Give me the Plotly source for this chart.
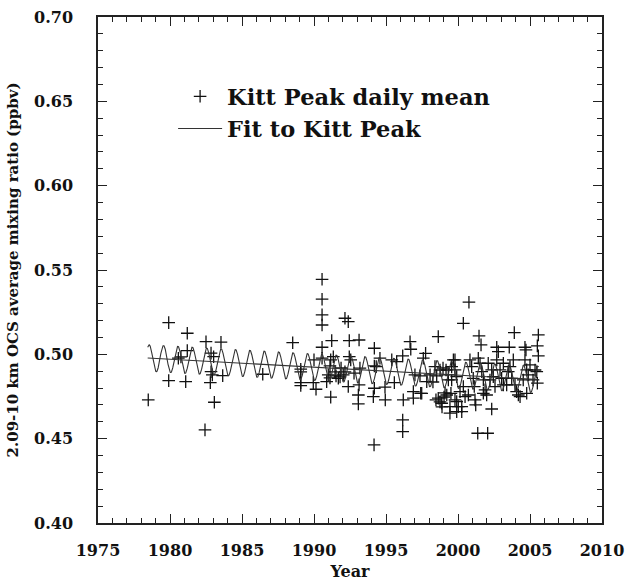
import numpy as np
import plotly.graph_objects as go

# ---- data ----
years = [
    1978.49, 1979.91, 1981.20, 1981.20, 1980.58, 1980.76, 1979.91, 1981.09, 1982.50, 1982.85,
    1983.03, 1983.54, 1982.85, 1982.94, 1982.80, 1983.66, 1983.08, 1982.43, 1986.44, 1988.52,
    1989.08, 1989.08, 1989.08, 1989.08, 1990.00, 1989.95, 1990.14, 1990.56, 1990.56, 1990.56,
    1990.56, 1990.56, 1990.56, 1991.23, 1991.16, 1991.11, 1991.34, 1990.99, 1990.88, 1991.11,
    1991.69, 1991.16, 1992.15, 1992.38, 1992.45, 1993.13, 1992.45, 1992.55, 1992.03, 1992.15,
    1991.81, 1991.53, 1992.38, 1993.13, 1993.08, 1993.08, 1993.19, 1992.78, 1991.46, 1991.88,
    1994.19, 1994.19, 1994.19, 1994.12, 1994.95, 1994.93, 1994.58, 1994.17, 1994.32, 1995.58,
    1995.40, 1995.74, 1996.16, 1996.16, 1996.20, 1996.16, 1996.67, 1996.72, 1996.90, 1996.90,
    1997.01, 1997.36, 1997.41, 1997.59, 1997.75, 1997.83, 1997.48, 1998.06, 1998.26, 1998.52,
    1998.63, 1998.75, 1998.40, 1998.47, 1998.75, 1998.89, 1999.03, 1999.10, 1998.96, 1999.17,
    1998.63, 1998.87, 1999.79, 1999.56, 1999.33, 1999.33, 1999.22, 1999.44, 1999.44, 1999.91,
    2000.02, 2000.26, 2000.14, 2000.37, 2000.49, 2000.72, 2000.83, 2000.95, 2001.06, 2001.13,
    2001.23, 2001.41, 2001.53, 2001.65, 2001.76, 2001.88, 2001.99, 2002.10, 2002.34, 2002.45,
    2002.57, 2002.69, 2002.92, 2003.03, 2003.15, 2003.15, 2000.76, 2000.37, 2001.46, 2001.60,
    2002.69, 2002.80, 2002.34, 2001.37, 2002.06, 1999.51, 1999.79, 1999.91, 2000.26, 2001.18,
    2001.76, 2002.22, 1999.68, 1999.79, 1999.56, 1999.91, 2003.56, 2003.91, 2004.65, 2004.72,
    2005.58, 2005.51, 2005.58, 2005.35, 2005.47, 2005.51, 2003.61, 2003.84, 2003.73, 2003.96,
    2004.07, 2004.19, 2004.31, 2004.53, 2004.65, 2004.77, 2004.88, 2004.77, 2003.49, 2003.38,
    2005.00, 2005.21,
]
ocs_ppbv = [
    0.4730, 0.5188, 0.5125, 0.5022, 0.4977, 0.4985, 0.4844, 0.4838, 0.5075, 0.5007,
    0.4986, 0.5072, 0.4897, 0.4878, 0.4832, 0.4874, 0.4716, 0.4552, 0.4882, 0.5069,
    0.4912, 0.4896, 0.4832, 0.4815, 0.4967, 0.4832, 0.4793, 0.5445, 0.5327, 0.5234,
    0.5174, 0.5042, 0.4977, 0.5081, 0.4967, 0.4931, 0.4986, 0.4878, 0.4838, 0.4860,
    0.4858, 0.4746, 0.5214, 0.5194, 0.5081, 0.5085, 0.4986, 0.4967, 0.4878, 0.4896,
    0.4866, 0.4872, 0.4809, 0.4819, 0.4759, 0.4706, 0.4918, 0.4888, 0.4896, 0.4919,
    0.5036, 0.4931, 0.4799, 0.4749, 0.4730, 0.4805, 0.4977, 0.4463, 0.4927, 0.4832,
    0.4967, 0.4957, 0.4611, 0.4542, 0.4730, 0.4991, 0.5075, 0.5030, 0.4779, 0.4740,
    0.4878, 0.4872, 0.4769, 0.4977, 0.5006, 0.4838, 0.4769, 0.4878, 0.4836, 0.4872,
    0.5105, 0.4907, 0.4927, 0.4730, 0.4718, 0.4688, 0.4747, 0.4771, 0.4919, 0.4907,
    0.4740, 0.4710, 0.4967, 0.4927, 0.4878, 0.4848, 0.4759, 0.4690, 0.4651, 0.4720,
    0.4690, 0.4660, 0.4779, 0.4809, 0.4749, 0.4759, 0.4967, 0.4927, 0.4858, 0.4809,
    0.4700, 0.4977, 0.4947, 0.4897, 0.4848, 0.4789, 0.4759, 0.4947, 0.4908, 0.4868,
    0.4809, 0.4967, 0.4908, 0.4858, 0.4947, 0.4819, 0.5309, 0.5184, 0.5109, 0.5056,
    0.5042, 0.5016, 0.4676, 0.4532, 0.4532, 0.4769, 0.4730, 0.4660, 0.4690, 0.4730,
    0.4769, 0.4848, 0.4967, 0.4908, 0.4848, 0.4868, 0.5042, 0.5129, 0.5042, 0.5026,
    0.5115, 0.5050, 0.4991, 0.4907, 0.4897, 0.4829, 0.4927, 0.4967, 0.4858, 0.4819,
    0.4779, 0.4759, 0.4749, 0.4848, 0.4967, 0.4908, 0.4878, 0.4769, 0.4897, 0.4819,
    0.4937, 0.4848,
]

# fitted model parameters (linear trend + annual cycle)
fit_start = 1978.45
fit_end = 2005.60
fit_ref_year = 1978.5
fit_intercept = 0.4978
fit_slope = -0.00047
fit_amplitude = 0.0079
fit_peak_phase = 0.55

x_tick_vals = [1975, 1980, 1985, 1990, 1995, 2000, 2005, 2010]
y_tick_vals = [0.40, 0.45, 0.50, 0.55, 0.60, 0.65, 0.70]

t = np.arange(fit_start, fit_end + 1e-9, 0.01)
trend = fit_intercept + fit_slope * (t - fit_ref_year)
seasonal = trend + fit_amplitude * np.cos(2 * np.pi * (t - fit_peak_phase))
trend_ends_x = [fit_start, fit_end]
trend_ends_y = [fit_intercept + fit_slope * (v - fit_ref_year) for v in trend_ends_x]

fit_x = list(t) + [None] + trend_ends_x
fit_y = list(seasonal) + [None] + trend_ends_y

FONT = "DejaVu Serif"

fig = go.Figure()
fig.add_trace(go.Scatter(
    x=years, y=ocs_ppbv, mode="markers", name="Kitt Peak daily mean",
    legendgroup="a",
    marker=dict(symbol="cross-thin", size=9, line=dict(width=1.3, color="#111111"), color="#111111"),
))
fig.add_trace(go.Scatter(
    x=fit_x, y=fit_y, mode="lines", name="Fit to Kitt Peak",
    legendgroup="b",
    line=dict(color="#333333", width=1.1),
))

axis_common = dict(
    showline=True, linecolor="#222222", linewidth=1.5, mirror="ticks",
    ticks="inside", ticklen=9, tickwidth=1.2, tickcolor="#222222",
    showgrid=False, zeroline=False, automargin=False,
    tickfont=dict(family=FONT, size=16, color="#111111", weight="bold"),
)

fig.update_xaxes(
    range=[1975, 2010], tickvals=x_tick_vals, ticktext=[str(v) for v in x_tick_vals],
    minor=dict(dtick=1, ticks="inside", ticklen=5, tickwidth=1, tickcolor="#222222"),
    ticklabelstandoff=12,
    title=dict(text="Year", font=dict(family=FONT, size=16, color="#111111", weight="bold"), standoff=8),
    **axis_common,
)
fig.update_yaxes(
    range=[0.40, 0.70], tickvals=y_tick_vals, ticktext=[f"{v:.2f}" for v in y_tick_vals],
    minor=dict(dtick=0.01, ticks="inside", ticklen=5, tickwidth=1, tickcolor="#222222"),
    ticklabelstandoff=20,
    title=dict(text="2.09-10 km OCS average mixing ratio (ppbv)",
               font=dict(family=FONT, size=15, color="#111111", weight="bold"), standoff=12),
    **axis_common,
)

fig.update_layout(
    width=628, height=581,
    margin=dict(l=98, r=26, t=17, b=58),
    paper_bgcolor="white", plot_bgcolor="white",
    showlegend=True,
    legend=dict(
        x=0.149, y=0.885, xanchor="left", yanchor="top",
        bgcolor="rgba(0,0,0,0)", borderwidth=0,
        font=dict(family=FONT, size=22.5, color="#111111", weight="bold"),
        itemwidth=44, tracegroupgap=0,
    ),
)

fig.write_html("out.html", config={"displayModeBar": False},
               post_script="document.body.style.margin='0px';")
